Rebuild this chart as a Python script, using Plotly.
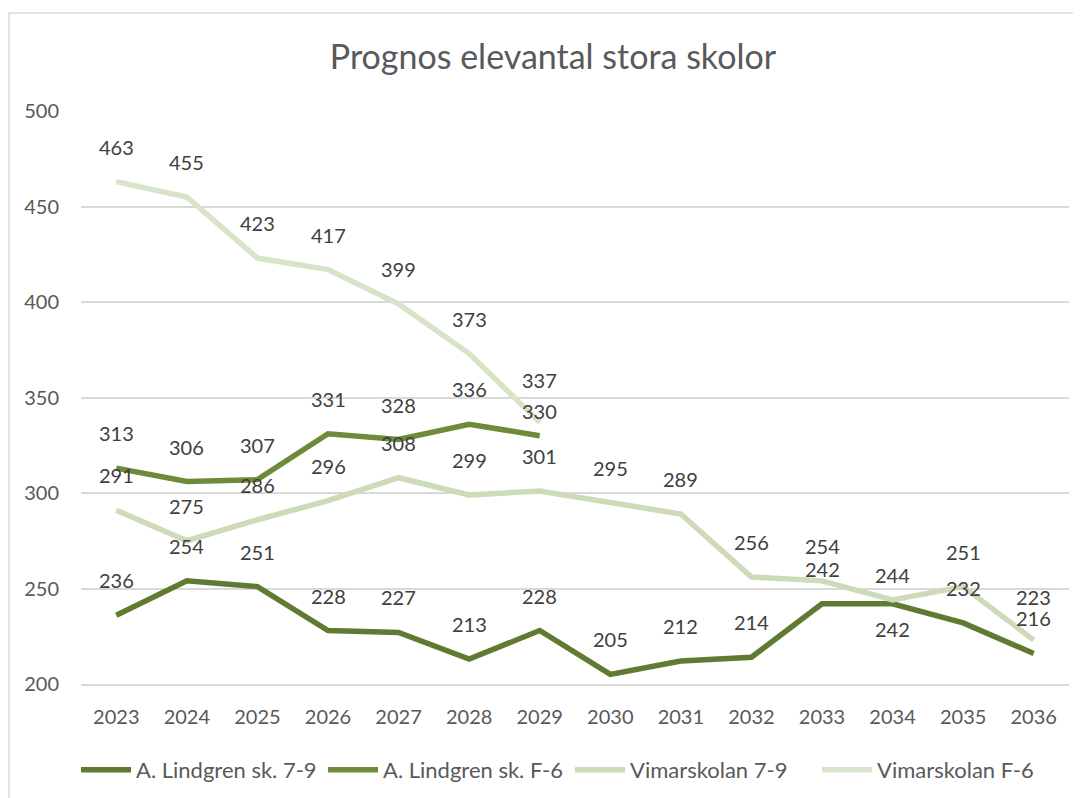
import plotly.graph_objects as go

years = ["2023", "2024", "2025", "2026", "2027", "2028", "2029",
         "2030", "2031", "2032", "2033", "2034", "2035", "2036"]

lindgren_79 = [236, 254, 251, 228, 227, 213, 228, 205, 212, 214, 242, 242, 232, 216]
lindgren_f6 = [313, 306, 307, 331, 328, 336, 330, None, None, None, None, None, None, None]
vimar_79 = [291, 275, 286, 296, 308, 299, 301, 295, 289, 256, 254, 244, 251, 223]
vimar_f6 = [463, 455, 423, 417, 399, 373, 337, None, None, None, None, None, None, None]

series_names = ["A. Lindgren sk. 7-9", "A. Lindgren sk. F-6", "Vimarskolan 7-9", "Vimarskolan F-6"]
series_values = [lindgren_79, lindgren_f6, vimar_79, vimar_f6]
series_colors = ["#5f7a31", "#6d8b3a", "#cddbb9", "#d7e4c9"]
series_widths = [5.5, 5.5, 5.5, 5.5]

# label nudges (pixels above point); default 35
label_shift = {(0, "2034"): -25, (1, "2029"): 25, (2, "2034"): 25,
               (2, "2036"): 43, (3, "2029"): 42}

FONT = "Lato, 'Open Sans', sans-serif"

fig = go.Figure()
for name, vals, col, w in zip(series_names, series_values, series_colors, series_widths):
    fig.add_trace(go.Scatter(x=years, y=vals, name=name, mode="lines",
                             line=dict(color=col, width=w), connectgaps=False))

annotations = []
for i, vals in enumerate(series_values):
    for j, (yr, v) in enumerate(zip(years, vals)):
        if v is None:
            continue
        annotations.append(dict(x=j, y=v, xref="x", yref="y", text=str(v), showarrow=False,
                                yshift=label_shift.get((i, yr), 35),
                                font=dict(family=FONT, size=20, color="#404040")))

# page offset (browser body margin)
OFF = 8
W, H = 1081 - OFF, 798 - OFF
# target page-pixel positions of plot area
PL, PR, PT, PB = 81, 1069, 111, 684
L, T = PL - OFF, PT - OFF
R = W - (PR - OFF)
B = H - (PB - OFF)
pw = PR - PL
ph = PB - PT

def px(x):
    return (x - PL) / pw

def py(y):
    return (PB - y) / ph

fig.update_layout(
    width=W, height=H,
    margin=dict(l=L, r=R, t=T, b=B, autoexpand=False),
    paper_bgcolor="white", plot_bgcolor="white",
    title=dict(text="Prognos elevantal stora skolor", x=(553 - OFF) / W, xref="container", xanchor="center",
               y=1 - (57 - OFF) / H, yref="container", yanchor="middle",
               font=dict(family=FONT, size=34, color="#595959")),
    xaxis=dict(type="category", range=[-0.5, 13.5], showgrid=False, showline=True,
               linecolor="#d9d9d9", linewidth=1.5,
               ticks="", ticklabelstandoff=14,
               tickfont=dict(family=FONT, size=20, color="#595959")),
    yaxis=dict(range=[200, 500], dtick=50, showgrid=True, gridcolor="#d9d9d9", gridwidth=1.5,
               zeroline=False, showline=False, ticks="", ticklabelstandoff=21,
               tickfont=dict(family=FONT, size=20, color="#595959")),
    legend=dict(orientation="h", x=px(76), xanchor="left", y=py(770), yanchor="middle",
                font=dict(family=FONT, size=22, color="#595959"), entrywidth=182,
                itemwidth=50, bgcolor="rgba(0,0,0,0)"),
    annotations=annotations,
    shapes=[dict(type="rect", xref="paper", yref="paper", x0=px(9), x1=px(1095), y0=py(810), y1=py(13),
                 line=dict(color="#d9d9d9", width=1.5), fillcolor="rgba(0,0,0,0)", layer="below")],
    showlegend=True,
)

fig.write_html("out.html")
